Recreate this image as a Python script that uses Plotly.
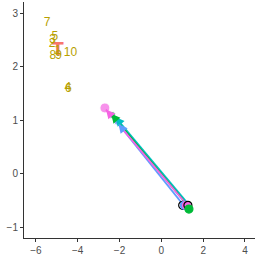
import plotly.graph_objects as go

# text labels (olive)
lab_text = ["1", "2", "3", "4", "5", "6", "7", "8", "9", "10"]
lab_x = [-4.95, -5.23, -5.2, -4.47, -5.09, -4.45, -5.47, -5.19, -4.92, -4.35]
lab_y = [2.3, 2.43, 2.5, 1.61, 2.56, 1.59, 2.82, 2.2, 2.2, 2.26]

# red T marker
t_x = [-4.95]
t_y = [2.3]

# trajectories: start (bottom) -> end (top), arrow at end
traj_colors = ["#00BFC4", "#00BA38", "#619CFF", "#F564E3"]
traj_x0 = [1.32, 1.32, 1.05, 1.18]
traj_y0 = [-0.58, -0.62, -0.58, -0.56]
traj_x1 = [-2.2, -2.4, -2.05, -2.65]
traj_y1 = [1.06, 1.12, 0.93, 1.2]

# end point markers (top)
top_x = [-2.7, -2.36, -2.1]
top_y = [1.23, 1.1, 0.97]
top_col = ["#F564E3", "#00BA38", "#619CFF"]

# bottom cluster markers
bot_x = [1.02, 1.1, 1.2, 1.27, 1.32]
bot_y = [-0.59, -0.59, -0.59, -0.59, -0.66]
bot_col = ["#000000", "#619CFF", "#F564E3", "#000000", "#00BA38"]
bot_fill = ["rgba(0,0,0,0)", "#619CFF", "#F564E3", "rgba(0,0,0,0)", "#00BA38"]

fig = go.Figure()

for c, x0, y0, x1, y1 in zip(traj_colors, traj_x0, traj_y0, traj_x1, traj_y1):
    fig.add_trace(go.Scatter(x=[x0, x1], y=[y0, y1], mode="lines",
                             line=dict(color=c, width=1.8), showlegend=False, hoverinfo="skip"))
    fig.add_annotation(x=x1, y=y1, ax=x1 + (x0 - x1) * 0.08, ay=y1 + (y0 - y1) * 0.08,
                       xref="x", yref="y", axref="x", ayref="y", text="",
                       showarrow=True, arrowhead=2, arrowsize=1.0, arrowwidth=1.8, arrowcolor=c)

fig.add_trace(go.Scatter(x=top_x, y=top_y, mode="markers",
                         marker=dict(color=top_col, size=[10, 7, 7]), showlegend=False))
fig.add_trace(go.Scatter(x=bot_x, y=bot_y, mode="markers",
                         marker=dict(color=bot_fill, size=8, line=dict(color=bot_col, width=1.2)),
                         showlegend=False))

fig.add_trace(go.Scatter(x=t_x, y=t_y, mode="text", text=["<b>T</b>"],
                         textfont=dict(color="#F8766D", size=17, family="DejaVu Sans"),
                         showlegend=False))
fig.add_trace(go.Scatter(x=lab_x, y=lab_y, mode="text", text=lab_text,
                         textfont=dict(color="#B79F00", size=12, family="Liberation Sans"),
                         showlegend=False))

axis_common = dict(showgrid=False, zeroline=False, showline=True, linecolor="#333333", linewidth=1,
                   ticks="outside", ticklen=3, tickcolor="#333333", automargin=False,
                   tickfont=dict(family="Liberation Sans", size=10, color="#4D4D4D"))

fig.update_xaxes(range=[-6.57, 4.48], tickvals=[-6, -4, -2, 0, 2, 4],
                 ticktext=["\u22126", "\u22124", "\u22122", "0", "2", "4"], **axis_common)
fig.update_yaxes(range=[-1.2, 3.21], tickvals=[-1, 0, 1, 2, 3],
                 ticktext=["\u22121", "0", "1", "2", "3"], **axis_common)

fig.update_layout(width=260, height=260, margin=dict(l=24, r=5, t=2, b=22),
                  plot_bgcolor="white", paper_bgcolor="white")

fig.write_html("out.html", config={"displayModeBar": False},
               post_script="document.body.style.margin='0';")
